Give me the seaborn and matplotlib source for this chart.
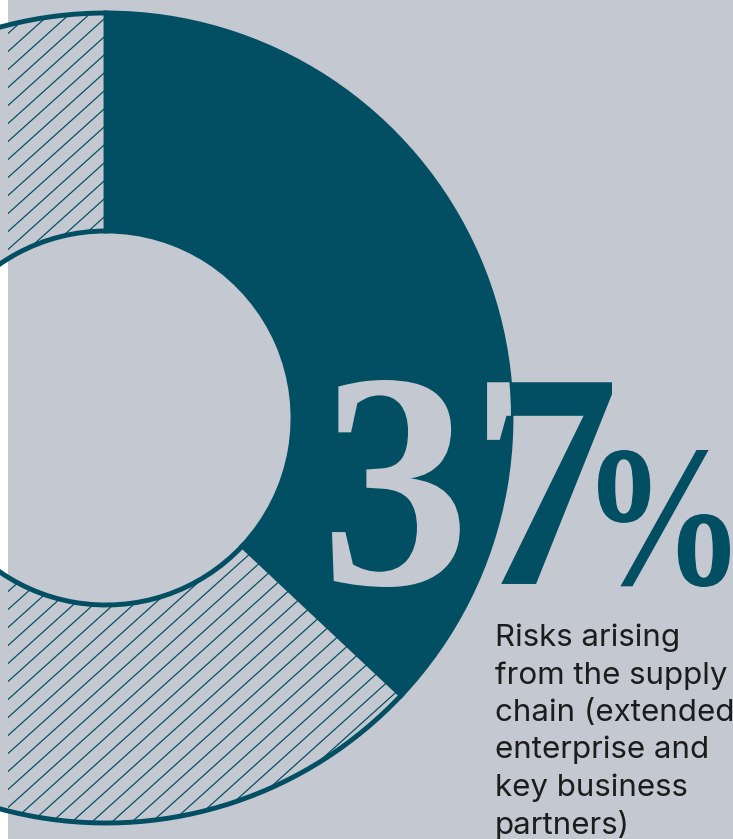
import matplotlib
matplotlib.use('Agg')
import matplotlib.pyplot as plt
import seaborn as sns
import pandas as pd
import numpy as np
from matplotlib.textpath import TextPath
from matplotlib.patches import PathPatch
from matplotlib.collections import LineCollection
from matplotlib.font_manager import FontProperties
from matplotlib.transforms import Affine2D

# ---- data ----
categories = ['Supply chain risks', 'Other risks']
values = [37, 63]
big_label = '37'
pct_label = '%'
description = ['Risks arising', 'from the supply', 'chain (extended',
               'enterprise and', 'key business', 'partners)']

# ---- style ----
BG = '#c4c8d0'
DARK = '#024f63'
TEXT = '#1c1c1c'
DPI = 110
W, H = 733, 839

sns.set_theme(style='white')
plt.rcParams['font.family'] = ['Inter', 'Lato', 'DejaVu Sans']

df = pd.DataFrame({'category': categories, 'value': values})

fig = plt.figure(figsize=(W / DPI, H / DPI), dpi=DPI, facecolor='white')
ax = fig.add_axes([8 / W, 0, 1 - 8 / W, 1])
ax.set_facecolor(BG)

cx, cy = 106, H - 418
R, r = 405, 187
wedges, _ = ax.pie(df['value'], startangle=90, counterclock=False,
                   center=(cx, cy), radius=R, colors=[DARK, BG],
                   wedgeprops=dict(width=R - r, edgecolor=DARK, linewidth=3.2),
                   frame=True)
ax.set_xlim(8, W)
ax.set_ylim(0, H)
ax.set_aspect('auto')
ax.set_xticks([])
ax.set_yticks([])
for s in ax.spines.values():
    s.set_visible(False)

# diagonal hatching of the "other" segment (decorative fill, clipped to the wedge)
hatch_gap, hatch_slope = 18, 0.9
starts = np.arange(-hatch_slope * W, H + hatch_gap, hatch_gap)
hatch = LineCollection([[(0, b), (W, b + hatch_slope * W)] for b in starts],
                       colors=DARK, linewidths=0.8, zorder=2)
ax.add_collection(hatch)
hatch.set_clip_path(wedges[1])

serif = FontProperties(family=['Liberation Serif', 'DejaVu Serif'], weight='bold')


def fitted_text_path(s, box):
    """Text outline scaled into an ink box given as (left, top, right, bottom) pixels."""
    tp = TextPath((0, 0), s, size=100, prop=serif)
    ext = tp.get_extents()
    x0, top, x1, bottom = box
    tr = (Affine2D().translate(-ext.x0, -ext.y0)
          .scale((x1 - x0) / ext.width, (bottom - top) / ext.height)
          .translate(x0, H - bottom))
    return tr.transform_path(tp)


big_path = fitted_text_path(big_label, (332, 380, 612, 587))
ax.add_patch(PathPatch(big_path, facecolor=DARK, edgecolor='none', zorder=5))
knock = PathPatch(big_path, facecolor=BG, edgecolor='none', zorder=6)
ax.add_patch(knock)
knock.set_clip_path(wedges[0])

pct_path = fitted_text_path(pct_label, (598, 450, 730, 587))
ax.add_patch(PathPatch(pct_path, facecolor=DARK, edgecolor='none', zorder=5))

first_baseline, pitch = 646, 37.5
for i, line in enumerate(description):
    ax.text(495, H - (first_baseline + i * pitch), line, fontsize=20.5,
            color=TEXT, ha='left', va='baseline', zorder=5)

fig.savefig('out.png', dpi=DPI, facecolor=fig.get_facecolor())
